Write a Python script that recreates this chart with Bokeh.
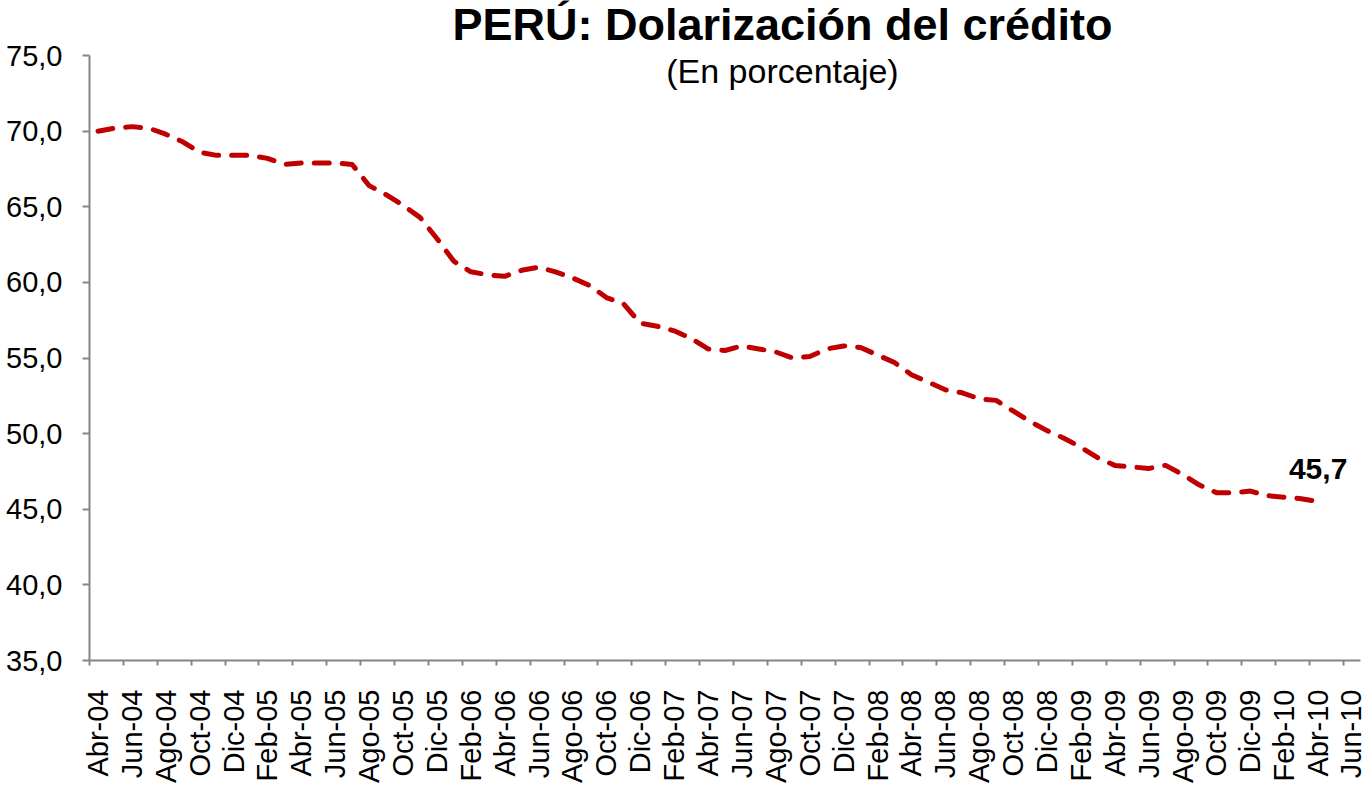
import math
from bokeh.plotting import figure
from bokeh.models import Range1d, FixedTicker, CustomJSTickFormatter, Label, ColumnDataSource
from bokeh.embed import file_html
from bokeh.resources import INLINE

# ---- data (monthly, Abr-04 .. Abr-10) ----
tick_labels = [
    "Abr-04", "Jun-04", "Ago-04", "Oct-04", "Dic-04",
    "Feb-05", "Abr-05", "Jun-05", "Ago-05", "Oct-05", "Dic-05",
    "Feb-06", "Abr-06", "Jun-06", "Ago-06", "Oct-06", "Dic-06",
    "Feb-07", "Abr-07", "Jun-07", "Ago-07", "Oct-07", "Dic-07",
    "Feb-08", "Abr-08", "Jun-08", "Ago-08", "Oct-08", "Dic-08",
    "Feb-09", "Abr-09", "Jun-09", "Ago-09", "Oct-09", "Dic-09",
    "Feb-10", "Abr-10", "Jun-10",
]

dolarizacion = [
    70.0, 70.2, 70.3, 70.2, 69.8, 69.3, 68.6, 68.4, 68.4, 68.4,
    68.2, 67.8, 67.9, 67.9, 67.9, 67.8, 66.4, 65.8, 65.1, 64.3,
    62.9, 61.4, 60.7, 60.5, 60.4, 60.8, 61.0, 60.7, 60.3, 59.8,
    59.0, 58.6, 57.3, 57.1, 56.8, 56.3, 55.6, 55.5, 55.8, 55.6,
    55.4, 55.0, 55.1, 55.6, 55.8, 55.7, 55.2, 54.7, 53.9, 53.4,
    52.9, 52.7, 52.3, 52.2, 51.5, 50.8, 50.2, 49.7, 49.1, 48.4,
    47.9, 47.8, 47.7, 47.9, 47.3, 46.6, 46.1, 46.1, 46.2, 45.9,
    45.8, 45.7, 45.5,
]
months = list(range(len(dolarizacion)))

y_ticks = [35, 40, 45, 50, 55, 60, 65, 70, 75]

title_text = "PERÚ: Dolarización del crédito"
subtitle_text = "(En porcentaje)"
last_label = "45,7"

FONT = "Liberation Sans"
AXIS_GREY = "#868686"
RED = "#C00000"

p = figure(
    width=1366, height=786,
    output_backend="svg", toolbar_location=None,
    x_range=Range1d(-0.5, 74.5), y_range=Range1d(35, 78.64),
    min_border_left=89, min_border_right=6, min_border_top=0, min_border_bottom=126,
)
p.outline_line_color = None
p.grid.visible = False
p.background_fill_color = "white"
p.border_fill_color = "white"

src = ColumnDataSource(dict(x=months, y=dolarizacion))
p.line("x", "y", source=src, line_color=RED, line_width=5,
       line_dash="15 13", line_cap="round", line_join="round")

# x axis
xa = p.xaxis[0]
xa.ticker = FixedTicker(
    ticks=[2 * i for i in range(len(tick_labels))],
    minor_ticks=[2 * i - 0.5 for i in range(len(tick_labels))],
)
xa.formatter = CustomJSTickFormatter(
    args=dict(labels=tick_labels),
    code="const i = Math.round(tick / 2); return (i >= 0 && i < labels.length) ? labels[i] : '';",
)
xa.major_tick_out = 0
xa.major_tick_in = 0
xa.minor_tick_out = 5
xa.minor_tick_in = 0
xa.minor_tick_line_color = AXIS_GREY
xa.minor_tick_line_width = 2
xa.axis_line_color = AXIS_GREY
xa.axis_line_width = 2
xa.major_label_orientation = math.pi / 2
xa.major_label_standoff = 24
xa.major_label_text_font = FONT
xa.major_label_text_font_size = "29px"
xa.major_label_text_color = "black"

# y axis
ya = p.yaxis[0]
ya.bounds = (35, 75)
ya.ticker = FixedTicker(ticks=y_ticks)
ya.formatter = CustomJSTickFormatter(code="return tick.toFixed(1).replace('.', ',');")
ya.major_tick_out = 7
ya.major_tick_in = 0
ya.minor_tick_out = 0
ya.minor_tick_in = 0
ya.major_tick_line_color = AXIS_GREY
ya.major_tick_line_width = 2
ya.axis_line_color = AXIS_GREY
ya.axis_line_width = 2
ya.major_label_standoff = 20
ya.major_label_text_font = FONT
ya.major_label_text_font_size = "29px"
ya.major_label_text_color = "black"

# titles and value label
p.add_layout(Label(x=40.39, y=77.03, text=title_text, text_align="center",
                   text_baseline="alphabetic", text_font=FONT, text_font_style="bold",
                   text_font_size="45px", text_color="black"))
p.add_layout(Label(x=40.39, y=74.0, text=subtitle_text, text_align="center",
                   text_baseline="alphabetic", text_font=FONT,
                   text_font_size="34px", text_color="black"))
p.add_layout(Label(x=len(dolarizacion) - 1, y=47.63, text=last_label, text_align="center",
                   text_baseline="alphabetic", text_font=FONT, text_font_style="bold",
                   text_font_size="30px", text_color="black"))

open("out.html", "w").write(file_html(p, INLINE))
